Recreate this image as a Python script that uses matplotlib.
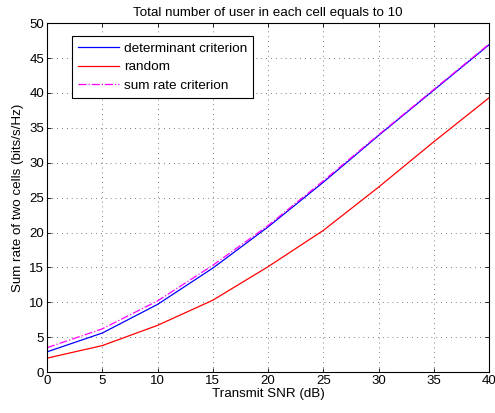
import matplotlib
matplotlib.use('Agg')
import matplotlib.pyplot as plt

plt.rcParams['font.family'] = ['Liberation Sans', 'DejaVu Sans']

snr = [0, 5, 10, 15, 20, 25, 30, 35, 40]
det_rate = [2.9, 5.6, 9.7, 14.9, 20.8, 27.2, 33.9, 40.4, 46.9]
rand_rate = [2.0, 3.8, 6.7, 10.3, 15.1, 20.3, 26.5, 33.0, 39.3]
sum_rate = [3.5, 6.2, 10.2, 15.3, 21.0, 27.4, 34.0, 40.5, 47.0]

fig = plt.figure(figsize=(4.95, 4.13), dpi=100)
ax = fig.add_axes([0.095, 0.099, 0.893, 0.845])

ax.plot(snr, det_rate, color='blue', lw=0.9, label='determinant criterion')
ax.plot(snr, rand_rate, color='red', lw=0.9, label='random')
ax.plot(snr, sum_rate, color='magenta', lw=0.9, ls='-.', label='sum rate criterion')

ax.set_xlim(0, 40)
ax.set_ylim(0, 50)
ax.set_xticks(range(0, 41, 5))
ax.set_yticks(range(0, 51, 5))
ax.tick_params(direction='in', top=True, right=True, labelsize=9.5, length=3, width=0.6, pad=2)
ax.grid(True, color='black', linestyle=(0, (1, 6)), linewidth=0.5)
for s in ax.spines.values():
    s.set_linewidth(0.8)

ax.set_title('Total number of user in each cell equals to 10', fontsize=9.6, pad=5)
ax.set_xlabel('Transmit SNR (dB)', fontsize=9.6, labelpad=1)
ax.set_ylabel('Sum rate of two cells (bits/s/Hz)', fontsize=9.6, labelpad=4)

leg = ax.legend(loc='upper left', bbox_to_anchor=(0.057, 0.962), borderaxespad=0,
                fontsize=9.7, fancybox=False, edgecolor='black', framealpha=1,
                handlelength=3.0, borderpad=0.45, labelspacing=0.45, handletextpad=0.4)
leg.get_frame().set_linewidth(0.8)

fig.savefig('out.png', dpi=100)
